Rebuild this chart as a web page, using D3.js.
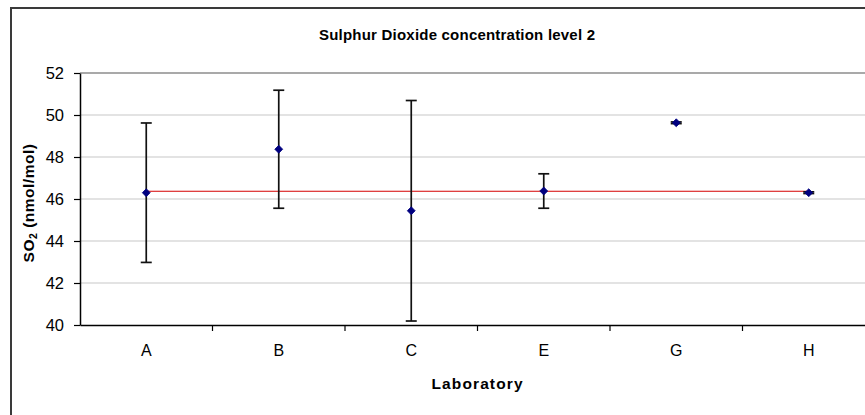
<!DOCTYPE html>
<html>
<head>
<meta charset="utf-8">
<script src="https://cdn.jsdelivr.net/npm/d3@7"></script>
<style>
  html, body { margin: 0; padding: 0; background: #fff; }
  svg { display: block; font-family: "Liberation Sans", Arial, sans-serif; }
</style>
</head>
<body>
<svg id="chart" width="865" height="415"></svg>
<script>
const categories = ["A", "B", "C", "E", "G", "H"];
const values = [46.30, 48.37, 45.44, 46.38, 49.63, 46.30];
const uncertainties = [3.32, 2.81, 5.25, 0.82, 0.04, 0.04];
const referenceValue = 46.37;
const yTicks = [40, 42, 44, 46, 48, 50, 52];
const titleText = "Sulphur Dioxide concentration level 2";
const xTitle = "Laboratory";

const svg = d3.select("#chart");
const plot = { left: 80, top: 73, right: 875, bottom: 325 };

// outer frame (extends beyond the window on right and bottom)
svg.append("rect")
  .attr("x", 11).attr("y", 8).attr("width", 900).attr("height", 450)
  .attr("fill", "#fff").attr("stroke", "#3a3a3a").attr("stroke-width", 2);

const x = d3.scaleBand().domain(categories).range([plot.left, plot.right]).padding(0);
const y = d3.scaleLinear().domain([40, 52]).range([plot.bottom, plot.top]);

// gridlines
svg.append("g").selectAll("line").data(yTicks.filter(t => t > 40)).join("line")
  .attr("x1", plot.left).attr("x2", plot.right)
  .attr("y1", d => y(d)).attr("y2", d => y(d))
  .attr("stroke", d => d === 52 ? "#8c8c8c" : "#c8c8c8")
  .attr("stroke-width", d => d === 52 ? 1.5 : 1.2);

// y axis
const yAxis = svg.append("g").attr("transform", `translate(${plot.left},0)`)
  .call(d3.axisLeft(y).tickValues(yTicks).tickSize(6).tickPadding(10).tickSizeOuter(0));
yAxis.select(".domain").attr("stroke", "#000").attr("stroke-width", 1.5);
yAxis.selectAll(".tick line").attr("stroke", "#000").attr("stroke-width", 1.2);
yAxis.selectAll(".tick text").attr("font-size", 16.5).attr("fill", "#000")
  .attr("font-family", "Liberation Sans, Arial, sans-serif");

// x axis
const xAxis = svg.append("g").attr("transform", `translate(0,${plot.bottom})`)
  .call(d3.axisBottom(x).tickSize(0).tickPadding(20));
xAxis.select(".domain").attr("stroke", "#000").attr("stroke-width", 1.5);
xAxis.selectAll(".tick text").attr("font-size", 16).attr("fill", "#000")
  .attr("font-family", "Liberation Sans, Arial, sans-serif");
// category boundary ticks
svg.append("g").selectAll("line").data(categories.slice(1)).join("line")
  .attr("x1", d => x(d)).attr("x2", d => x(d))
  .attr("y1", plot.bottom).attr("y2", plot.bottom + 6)
  .attr("stroke", "#000").attr("stroke-width", 1.2);

// reference line from first to last category
svg.append("line")
  .attr("x1", x(categories[0]) + x.bandwidth() / 2)
  .attr("x2", x(categories[categories.length - 1]) + x.bandwidth() / 2)
  .attr("y1", y(referenceValue)).attr("y2", y(referenceValue))
  .attr("stroke", "#d40000").attr("stroke-width", 1.1);

const data = categories.map((c, i) => ({ c, v: values[i], u: uncertainties[i] }));
const cx = d => x(d.c) + x.bandwidth() / 2;

// error bars
const eb = svg.append("g").attr("stroke", "#111").attr("stroke-width", 1.7);
eb.selectAll(".v").data(data).join("line")
  .attr("x1", cx).attr("x2", cx)
  .attr("y1", d => y(d.v + d.u)).attr("y2", d => y(d.v - d.u));
eb.selectAll(".t").data(data).join("line")
  .attr("x1", d => cx(d) - 5.5).attr("x2", d => cx(d) + 5.5)
  .attr("y1", d => y(d.v + d.u)).attr("y2", d => y(d.v + d.u));
eb.selectAll(".b").data(data).join("line")
  .attr("x1", d => cx(d) - 5.5).attr("x2", d => cx(d) + 5.5)
  .attr("y1", d => y(d.v - d.u)).attr("y2", d => y(d.v - d.u));

// markers
svg.append("g").selectAll("path").data(data).join("path")
  .attr("d", d3.symbol(d3.symbolDiamond2, 40))
  .attr("transform", d => `translate(${cx(d)},${y(d.v)})`)
  .attr("fill", "#000080").attr("stroke", "#000080").attr("stroke-width", 0.8);

// titles
svg.append("text").attr("x", 457).attr("y", 40).attr("text-anchor", "middle")
  .attr("font-size", 15).attr("font-weight", "bold").attr("textLength", 276)
  .attr("lengthAdjust", "spacing").text(titleText);

svg.append("text").attr("x", 477).attr("y", 389).attr("text-anchor", "middle")
  .attr("font-size", 15.5).attr("font-weight", "bold").attr("textLength", 91)
  .attr("lengthAdjust", "spacing").text(xTitle);

const yt = svg.append("text")
  .attr("transform", "translate(34,203) rotate(-90)")
  .attr("text-anchor", "middle").attr("font-size", 15.5).attr("font-weight", "bold")
  .attr("letter-spacing", 0.5);
yt.append("tspan").text("SO");
yt.append("tspan").attr("font-size", 10.5).attr("dy", 3).text("2");
yt.append("tspan").attr("dy", -3).text(" (nmol/mol)");
</script>
</body>
</html>
